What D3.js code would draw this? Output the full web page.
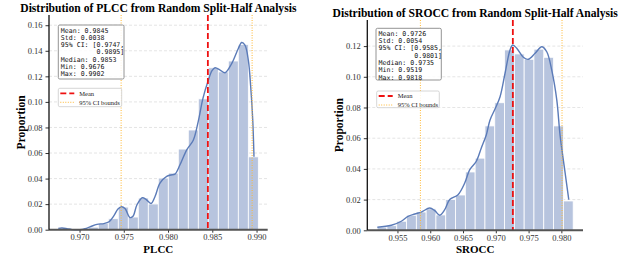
<!DOCTYPE html>
<html>
<head>
<meta charset="utf-8">
<script src="https://cdn.jsdelivr.net/npm/d3@7"></script>
<style>
  body { margin: 0; background: #fff; }
  svg { display: block; }
</style>
</head>
<body>
<div id="viz"></div>
<script>
// ---- data ----
const plccRange = [0.9676, 0.9902];
const plccBins = [0.001, 0, 0, 0.002, 0.005, 0.0086, 0.0177, 0.0099, 0.0248, 0.0201,
  0.0404, 0.0443, 0.0631, 0.078, 0.1024, 0.1267, 0.1235, 0.132, 0.145, 0.057];
const plccKde = [
  [0.96760, 0.0010], [0.96802, 0.0013], [0.96858, 0.0008], [0.96915, 0.0001], [0.97005, 0.0],
  [0.97062, 0.0008], [0.97118, 0.0022], [0.97197, 0.0042], [0.97276, 0.0048], [0.97333, 0.0062],
  [0.97389, 0.0110], [0.97434, 0.0162], [0.97476, 0.0180], [0.97514, 0.0165], [0.97570, 0.0095],
  [0.97604, 0.0105], [0.97649, 0.0195], [0.97709, 0.0250], [0.97751, 0.0238], [0.97808, 0.0205],
  [0.97853, 0.0260], [0.97909, 0.0365], [0.97985, 0.0417], [0.98033, 0.0428], [0.98078, 0.0435],
  [0.98135, 0.0508], [0.98211, 0.0625], [0.98285, 0.0700], [0.98342, 0.0850], [0.98395, 0.1030],
  [0.98455, 0.1170], [0.98497, 0.1245], [0.98531, 0.1267], [0.98588, 0.1249], [0.98644, 0.1228],
  [0.98719, 0.1300], [0.98794, 0.1418], [0.98832, 0.1465], [0.98869, 0.1444], [0.98907, 0.1327],
  [0.98934, 0.1118], [0.98957, 0.0858], [0.98971, 0.0570]
];
const plccStats = {mean: 0.9845, ciLow: 0.9747, ciHigh: 0.9895};
const plccText = ["Mean: 0.9845", "Std: 0.0038", "95% CI: [0.9747,", "         0.9895]",
  "Median: 0.9853", "Min: 0.9676", "Max: 0.9902"];
const plccTicksX = [0.970, 0.975, 0.980, 0.985, 0.990];
const plccTicksY = [0, 0.02, 0.04, 0.06, 0.08, 0.10, 0.12, 0.14, 0.16];

const sroccRange = [0.9519, 0.9818];
const sroccBins = [0.0021, 0.003, 0.0059, 0.0098, 0.0119, 0.014, 0.010, 0.020, 0.023, 0.038,
  0.047, 0.068, 0.0831, 0.1175, 0.1149, 0.1114, 0.118, 0.1127, 0.068, 0.0191];
const sroccKde = [
  [0.95193, 0.0020], [0.95407, 0.0033], [0.95559, 0.0059], [0.95661, 0.0091], [0.95764, 0.0106],
  [0.95864, 0.0119], [0.95992, 0.0145], [0.96069, 0.0128], [0.96145, 0.0098], [0.96221, 0.0134],
  [0.96297, 0.0200], [0.96424, 0.0232], [0.96526, 0.0308], [0.96603, 0.0395], [0.96703, 0.0450],
  [0.96779, 0.0536], [0.96856, 0.0623], [0.96912, 0.0719], [0.96988, 0.0790], [0.97065, 0.0870],
  [0.97141, 0.1023], [0.97217, 0.1175], [0.97258, 0.1207], [0.97319, 0.1186], [0.97420, 0.1127],
  [0.97496, 0.1114], [0.97599, 0.1153], [0.97701, 0.1196], [0.97777, 0.1163], [0.97853, 0.1044],
  [0.97930, 0.0850], [0.97980, 0.0620], [0.98052, 0.0390], [0.98113, 0.0200]
];
const sroccStats = {mean: 0.9726, ciLow: 0.9585, ciHigh: 0.9801};
const sroccText = ["Mean: 0.9726", "Std: 0.0054", "95% CI: [0.9585,", "         0.9801]",
  "Median: 0.9735", "Min: 0.9519", "Max: 0.9818"];
const sroccTicksX = [0.955, 0.960, 0.965, 0.970, 0.975, 0.980];
const sroccTicksY = [0, 0.02, 0.04, 0.06, 0.08, 0.10, 0.12];

const legendLabels = ["Mean", "95% CI bounds"];

const width = 638, height = 256;
const serif = "'Liberation Serif', 'Times New Roman', serif";
const mono = "'DejaVu Sans Mono', monospace";

const svg = d3.select("#viz")
  .append("svg")
  .attr("width", width)
  .attr("height", height)
  .attr("viewBox", [0, 0, width, height]);

function drawPanel(p) {
  const x = d3.scaleLinear().domain(p.xDomain).range([p.left, p.right]);
  const y = d3.scaleLinear().domain([0, p.yMax]).range([p.bottom, p.top]);
  const g = svg.append("g");

  // grid
  g.append("g")
    .selectAll("line")
    .data(p.ticksY)
    .join("line")
    .attr("x1", p.left).attr("x2", p.right)
    .attr("y1", d => y(d)).attr("y2", d => y(d))
    .attr("stroke", "#d9d9d9")
    .attr("stroke-width", 0.7)
    .attr("stroke-dasharray", "3,2");

  // bars
  const n = p.bins.length;
  const bw = (p.range[1] - p.range[0]) / n;
  g.append("g")
    .selectAll("rect")
    .data(p.bins)
    .join("rect")
    .attr("x", (d, i) => x(p.range[0] + i * bw))
    .attr("width", (d, i) => x(p.range[0] + (i + 1) * bw) - x(p.range[0] + i * bw))
    .attr("y", d => y(d))
    .attr("height", d => y(0) - y(d))
    .attr("fill", "#b7c4de")
    .attr("stroke", "#fff")
    .attr("stroke-width", 0.8);

  // kde
  g.append("path")
    .datum(p.kde)
    .attr("fill", "none")
    .attr("stroke", "#5b7bb8")
    .attr("stroke-width", 1.4)
    .attr("d", d3.line().x(d => x(d[0])).y(d => y(d[1])).curve(d3.curveCatmullRom));

  // mean + ci lines
  g.append("line")
    .attr("x1", x(p.stats.mean)).attr("x2", x(p.stats.mean))
    .attr("y1", p.top).attr("y2", p.bottom)
    .attr("stroke", "#ee1111")
    .attr("stroke-width", 1.8)
    .attr("stroke-dasharray", "6,3");
  g.append("g")
    .selectAll("line")
    .data([p.stats.ciLow, p.stats.ciHigh])
    .join("line")
    .attr("x1", d => x(d)).attr("x2", d => x(d))
    .attr("y1", p.top).attr("y2", p.bottom)
    .attr("stroke", "#ffb833")
    .attr("stroke-width", 1)
    .attr("stroke-dasharray", "1,1.5");

  // axes
  const gx = g.append("g")
    .attr("transform", `translate(0,${p.bottom})`)
    .call(d3.axisBottom(x).tickValues(p.ticksX).tickFormat(d3.format(".3f")).tickSize(3).tickPadding(1.5))
    .call(a => a.select(".domain").remove());
  gx.selectAll("text").attr("font-family", serif).attr("font-size", 8.5).attr("fill", "#333");
  gx.selectAll(".tick line").attr("stroke", "#333");
  g.append("line")
    .attr("x1", p.left).attr("x2", p.right)
    .attr("y1", p.bottom).attr("y2", p.bottom)
    .attr("stroke", "#555").attr("stroke-width", 2);

  const gy = g.append("g")
    .attr("transform", `translate(${p.left},0)`)
    .call(d3.axisLeft(y).tickValues(p.ticksY).tickFormat(d3.format(".2f")).tickSize(3.5).tickPadding(3))
    .call(a => a.select(".domain").remove());
  gy.selectAll("text").attr("font-family", serif).attr("font-size", 8.5).attr("fill", "#333");
  gy.selectAll(".tick line").attr("stroke", "#333");
  g.append("line")
    .attr("x1", p.left).attr("x2", p.left)
    .attr("y1", p.top).attr("y2", p.bottom)
    .attr("stroke", "#111").attr("stroke-width", 1.3);

  // titles
  g.append("text")
    .attr("x", (p.left + p.right) / 2).attr("y", p.titleY)
    .attr("text-anchor", "middle")
    .attr("font-family", serif).attr("font-weight", "bold").attr("font-size", 11.6)
    .text(p.title);
  g.append("text")
    .attr("x", (p.left + p.right) / 2).attr("y", 252.5)
    .attr("text-anchor", "middle")
    .attr("font-family", serif).attr("font-weight", "bold").attr("font-size", 11)
    .text(p.xLabel);
  g.append("text")
    .attr("transform", `translate(${p.left - 24},${(p.top + p.bottom) / 2}) rotate(-90)`)
    .attr("text-anchor", "middle")
    .attr("font-family", serif).attr("font-weight", "bold").attr("font-size", 11.5)
    .text("Proportion");

  // stats box
  const sb = p.statsBox;
  g.append("rect")
    .attr("x", sb[0]).attr("y", sb[1]).attr("width", sb[2]).attr("height", sb[3])
    .attr("rx", 1.5)
    .attr("fill", "#fff").attr("fill-opacity", 0.85)
    .attr("stroke", "#888").attr("stroke-width", 0.9);
  g.append("g")
    .selectAll("text")
    .data(p.text)
    .join("text")
    .attr("x", sb[0] + 2.5)
    .attr("y", (d, i) => sb[1] + 7.5 + i * 7.3)
    .attr("font-family", mono).attr("font-size", 6.6).attr("fill", "#111")
    .attr("xml:space", "preserve")
    .style("white-space", "pre")
    .text(d => d);

  // legend
  const lb = p.legendBox;
  g.append("rect")
    .attr("x", lb[0]).attr("y", lb[1]).attr("width", lb[2]).attr("height", lb[3])
    .attr("rx", 1.5)
    .attr("fill", "#fff").attr("fill-opacity", 0.85)
    .attr("stroke", "#ccc").attr("stroke-width", 0.8);
  const rows = g.append("g")
    .selectAll("g")
    .data(legendLabels)
    .join("g")
    .attr("transform", (d, i) => `translate(${lb[0] + 2},${lb[1] + 5 + i * 9})`);
  rows.append("line")
    .attr("x1", 0).attr("x2", 14)
    .attr("stroke", (d, i) => i === 0 ? "#ee1111" : "#ffb833")
    .attr("stroke-width", (d, i) => i === 0 ? 1.8 : 1)
    .attr("stroke-dasharray", (d, i) => i === 0 ? "6,3" : "1,1.5");
  rows.append("text")
    .attr("x", 19).attr("y", 2.3)
    .attr("font-family", serif).attr("font-size", 6.5).attr("fill", "#222")
    .text(d => d);
}

drawPanel({
  title: "Distribution of PLCC from Random Split-Half Analysis",
  xLabel: "PLCC",
  range: plccRange, bins: plccBins, kde: plccKde, stats: plccStats, text: plccText,
  ticksX: plccTicksX, ticksY: plccTicksY,
  xDomain: [0.96655, 0.99126], yMax: 0.168,
  left: 49, right: 267.7, top: 15, bottom: 229.7, titleY: 12,
  statsBox: [58.3, 25, 65.7, 54], legendBox: [58.3, 88.3, 63.4, 18.4]
});

drawPanel({
  title: "Distribution of SROCC from Random Split-Half Analysis",
  xLabel: "SROCC",
  range: sroccRange, bins: sroccBins, kde: sroccKde, stats: sroccStats, text: sroccText,
  ticksX: sroccTicksX, ticksY: sroccTicksY,
  xDomain: [0.9504, 0.9833], yMax: 0.137,
  left: 367.3, right: 583, top: 20, bottom: 230.3, titleY: 16.5,
  statsBox: [376, 28.3, 65.3, 51.7], legendBox: [376.7, 91, 62.6, 16.7]
});
</script>
</body>
</html>
